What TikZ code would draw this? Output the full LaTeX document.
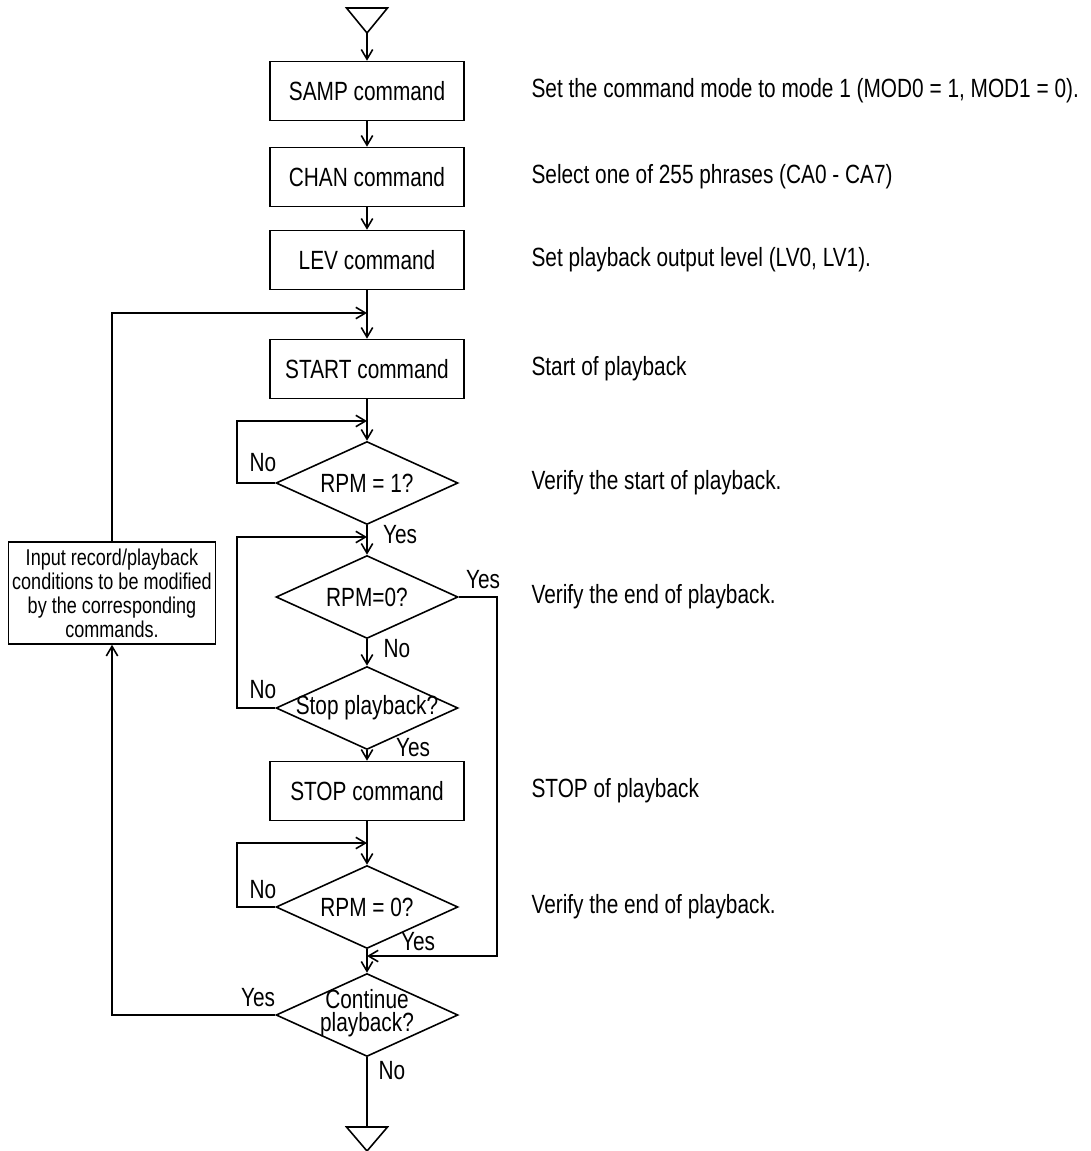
\documentclass[tikz,border=0pt]{standalone}
\usepackage{fontspec}
\setmainfont[FakeStretch=0.79]{Liberation Sans}
\usetikzlibrary{shapes.geometric, arrows.meta, positioning}

\begin{document}
\begin{tikzpicture}[
  x=0.02cm, y=-0.02cm,
  line width=0.9pt,
  font=\fontsize{15}{17}\selectfont,
  box/.style={
    draw,
    rectangle,
    inner sep=0pt,
    minimum width=3.88cm,
    minimum height=1.18cm
  },
  decision/.style={
    draw,
    diamond,
    inner sep=0pt,
    minimum width=3.64cm,
    minimum height=1.66cm
  },
  note/.style={anchor=west, inner sep=0pt},
  yn/.style={inner sep=0pt},
  arrow/.style={-{Straight Barb[length=5.5pt, width=6.5pt]}}
]
\useasboundingbox (0,0) rectangle (1090,1151);

% terminals
\coordinate (begin) at (367,33);
\draw (begin) -- ++(-20.5,-25) -- ++(41,0) -- cycle;
\coordinate (end) at (367,1127);
\draw (end) -- ++(-20.5,0) -- ++(20.5,24) -- ++(20.5,-24) -- cycle;

% main column
\node[box] (samp) at (367,91) {SAMP command};
\node[box] (chan) at (367,177) {CHAN command};
\node[box] (lev) at (367,260) {LEV command};
\node[box] (start) at (367,369) {START command};
\node[decision, label=center:{RPM = 1?}] (rpm1) at (367,483) {};
\node[decision, label=center:{RPM=0?}] (rpm0) at (367,597) {};
\node[decision, label=center:{Stop playback?}] (stopq) at (367,708) {};
\node[box] (stop) at (367,791) {STOP command};
\node[decision, label=center:{RPM = 0?}] (rpmz) at (367,907) {};
\node[decision, label={[align=center, yshift=1pt, font=\fontsize{15}{13.2}\selectfont]center:{Continue\\playback?}}] (cont) at (367,1015) {};
\node[box, minimum width=4.14cm, minimum height=2.04cm, align=center,
  font=\fontsize{13}{13.6}\selectfont] (modify) at (112,593)
  {Input record/playback\\conditions to be modified\\by the corresponding\\commands.};

% remarks
\node[note, right=1.32cm of samp] (n1) {Set the command mode to mode 1 (MOD0 = 1, MOD1 = 0).};
\node[note, right=1.32cm of chan] (n2) {Select one of 255 phrases (CA0 - CA7)};
\node[note, right=1.32cm of lev] (n3) {Set playback output level (LV0, LV1).};
\node[note, right=1.32cm of start] (n4) {Start of playback};
\node[note, right=1.44cm of rpm1] (n5) {Verify the start of playback.};
\node[note, right=1.44cm of rpm0] (n6) {Verify the end of playback.};
\node[note, right=1.32cm of stop] (n7) {STOP of playback};
\node[note, right=1.44cm of rpmz] (n8) {Verify the end of playback.};

% branch labels
\node[yn] (no1) at (263,463) {No};
\node[yn] (yes1) at (400,535) {Yes};
\node[yn] (yes2) at (483,580) {Yes};
\node[yn] (no2) at (397,649) {No};
\node[yn] (no3) at (263,690) {No};
\node[yn] (yes3) at (413,748) {Yes};
\node[yn] (no4) at (263,890) {No};
\node[yn] (yes4) at (418,942) {Yes};
\node[yn] (yes5) at (258,998) {Yes};
\node[yn] (no5) at (392,1071) {No};

% junctions
\coordinate (j0) at (367,313);
\coordinate (j1) at (367,421);
\coordinate (j2) at (367,537);
\coordinate (j3) at (367,843);
\coordinate (j4) at (367,956);

\draw[arrow] (begin) -- (samp);
\draw[arrow] (samp) -- (chan);
\draw[arrow] (chan) -- (lev);
\draw[arrow] (lev) -- (start);
\draw[arrow] (start) -- (rpm1);
\draw[arrow] (rpm1) -- (rpm0);
\draw[arrow] (rpm0) -- (stopq);
\draw[arrow] (stopq) -- (stop);
\draw[arrow] (stop) -- (rpmz);
\draw[arrow] (rpmz) -- (cont);
\draw (cont) -- (end);

\draw[arrow] (rpm1.west) -- ++(-38,0) |- (j1);
\draw[arrow] (stopq.west) -- ++(-38,0) |- (j2);
\draw[arrow] (rpmz.west) -- ++(-38,0) |- (j3);
\draw[arrow] (rpm0.east) -- ++(38,0) |- (j4);
\draw[arrow] (cont.west) -| (modify.south);
\draw[arrow] (modify.north) |- (j0);

\end{tikzpicture}
\end{document}
